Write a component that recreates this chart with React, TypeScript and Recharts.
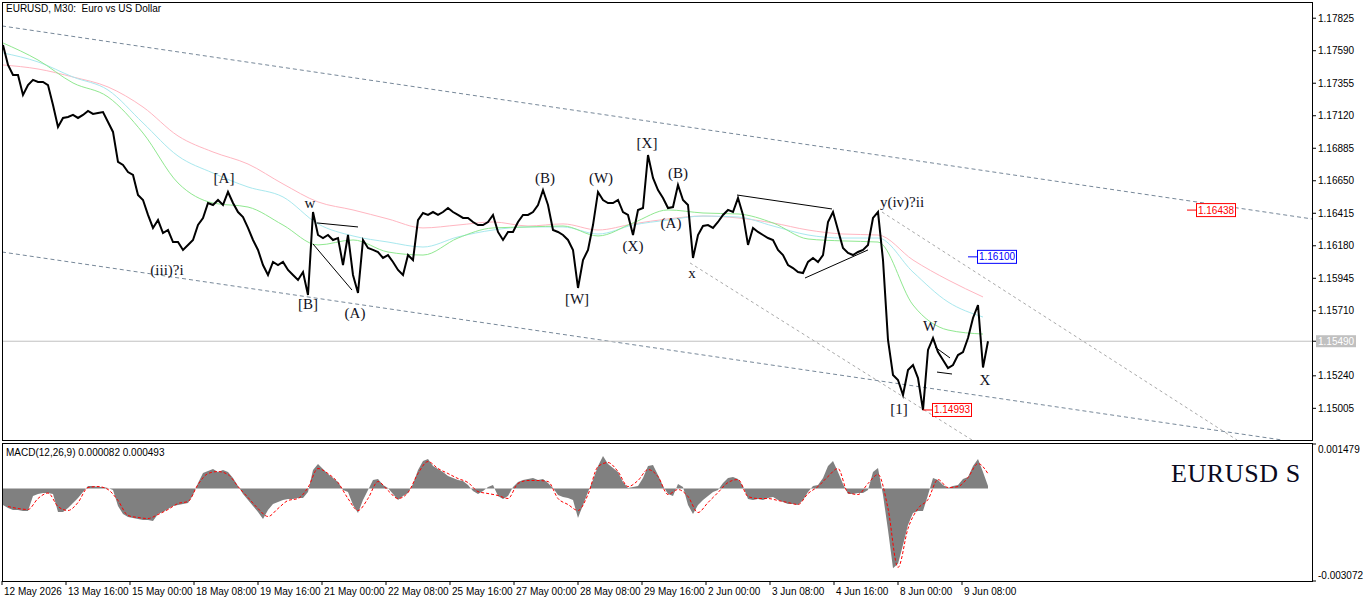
import {
  ComposedChart,
  Line,
  Area,
  XAxis,
  YAxis,
  ReferenceLine,
  ReferenceDot,
} from "recharts";

// EURUSD M30, one pixel per bar; closes read every 5 bars starting at bar 1
const closes = [
  1.17632, 1.17487, 1.17415, 1.17415, 1.1727, 1.17342, 1.17379, 1.17364, 1.17364, 1.17342,
  1.17198, 1.17039, 1.17104, 1.17111, 1.17126, 1.17104, 1.17126, 1.17155, 1.17133, 1.1714,
  1.17147, 1.17075, 1.17003, 1.16786, 1.16764, 1.16713, 1.16692, 1.16547, 1.16511, 1.16403,
  1.16309, 1.16366, 1.16272, 1.16294, 1.16207, 1.16207, 1.1615, 1.16186, 1.16222, 1.1633,
  1.16381, 1.16489, 1.16475, 1.16511, 1.16475, 1.16569, 1.16489, 1.16424, 1.16388, 1.16309,
  1.16222, 1.1615, 1.16041, 1.15969, 1.16063, 1.16041, 1.16063, 1.16005, 1.15969, 1.15933,
  1.1599, 1.15824, 1.16424, 1.16258, 1.16236, 1.16258, 1.16222, 1.16236, 1.16041, 1.16258,
  1.15969, 1.15839, 1.16222, 1.16164, 1.1615, 1.16135, 1.16092, 1.16113, 1.16063, 1.16005,
  1.15969, 1.16113, 1.16077, 1.16366, 1.16417, 1.16403, 1.16424, 1.16403, 1.16424, 1.16453,
  1.16424, 1.16403, 1.16381, 1.16381, 1.16352, 1.1633, 1.1633, 1.16352,
  1.16403, 1.1628, 1.16222, 1.1628, 1.1628, 1.16352, 1.16403, 1.16403, 1.16424, 1.16475,
  1.16583, 1.16475, 1.16294, 1.1628, 1.16258, 1.16222, 1.1615, 1.15875, 1.16077, 1.1615,
  1.1633, 1.16569, 1.16511, 1.16489, 1.16489, 1.16511, 1.16424, 1.16403, 1.16258, 1.16439,
  1.16453, 1.16836, 1.1667, 1.16583, 1.16525, 1.16453, 1.1646, 1.16619, 1.16511, 1.16475,
  1.16092, 1.16258, 1.16323, 1.1633, 1.16309, 1.16352, 1.16403, 1.16439, 1.16424, 1.16525,
  1.16403, 1.16186, 1.16309, 1.1628, 1.16258, 1.16236, 1.16222, 1.1615, 1.16113, 1.16041,
  1.16019, 1.1599, 1.15983, 1.16063, 1.16092, 1.16063, 1.16113, 1.16352, 1.16424, 1.16294,
  1.16164, 1.16128, 1.16113, 1.16135, 1.1615, 1.16186, 1.16381, 1.16424, 1.16077, 1.15499,
  1.15246, 1.1521, 1.15101, 1.15282, 1.15318, 1.15224, 1.14993, 1.15427, 1.15513, 1.15412,
  1.15354, 1.15296, 1.15318, 1.1539, 1.15412, 1.15513, 1.15658, 1.15752, 1.153, 1.1549,
];

// moving averages, read every 35 bars from bar 1
const maFast = [
  1.17646, 1.17523, 1.17357, 1.17256, 1.16995, 1.16634, 1.16489, 1.1646, 1.1633, 1.16186,
  1.16222, 1.16135, 1.16113, 1.16236, 1.16309, 1.16316, 1.16323, 1.16251, 1.16345, 1.16439,
  1.16417, 1.1641, 1.16345, 1.16229, 1.16215, 1.16207, 1.15752, 1.15571, 1.15542,
];
const maMid = [
  1.17574, 1.17509, 1.174, 1.17306, 1.17068, 1.16829, 1.16706, 1.16605, 1.16533, 1.16338,
  1.16251, 1.16207, 1.16171, 1.16244, 1.16294, 1.16316, 1.16316, 1.16265, 1.1633, 1.16366,
  1.16395, 1.16388, 1.16323, 1.16258, 1.16236, 1.16236, 1.1599, 1.15774, 1.15665,
];
const maSlow = [
  1.17487, 1.17458, 1.174, 1.17328, 1.17183, 1.16974, 1.16858, 1.16771, 1.16627, 1.16497,
  1.16439, 1.16374, 1.16309, 1.1633, 1.16352, 1.16323, 1.16338, 1.16294, 1.16338, 1.16374,
  1.16395, 1.16381, 1.16345, 1.16294, 1.16265, 1.16258, 1.16077, 1.15933, 1.1581,
];

// MACD main (histogram), same bars as closes
const macdMain = [
  -0.000548, -0.000647, -0.000714, -0.000714, -0.000747, -0.000747, -0.000249, -0.000183, -0.000149, -0.000149,
  -0.000183, -0.00078, -0.00078, -0.000647, -0.000481, -0.000315, -0.000116, 0.000083, 0.000083, 0.00005,
  0.00005, 0.000017, -0.00005, -0.000581, -0.000847, -0.000946, -0.000979, -0.001013, -0.001046, -0.001046,
  -0.001079, -0.000847, -0.00078, -0.000681, -0.000581, -0.000548, -0.000515, -0.000481, -0.000216, 0.000183,
  0.000515, 0.000581, 0.000647, 0.000548, 0.000614, 0.000548, 0.000349, 0.000083, -0.000183, -0.000382,
  -0.000581, -0.00078, -0.001013, -0.000714, -0.000515, -0.000448, -0.000382, -0.000349, -0.000349, -0.000315,
  -0.000315, -0.000116, 0.000614, 0.000813, 0.000647, 0.000481, 0.000349, 0.000216, -0.00005, -0.000116,
  -0.000548, -0.000813, -0.000382, -0.00005, 0.000282, 0.000315, 0.000116, 0.000017, -0.000183, -0.000382,
  -0.000249, -0.000149, 0.000149, 0.000614, 0.000913, 0.000979, 0.000747, 0.000647, 0.000548, 0.000415,
  0.000349, 0.000282, 0.000249, 0.000116, -0.000083, -0.000183, -0.000083, 0.00005, 0.000116, -0.000249,
  -0.000349, -0.000249, 0.00005, 0.000216, 0.000282, 0.000315, 0.000349, 0.000282, 0.000315, 0.000183,
  0.000017, -0.000216, -0.000282, -0.000315, -0.000382, -0.000979, -0.000548, -0.000116, 0.000282, 0.000747,
  0.001079, 0.000813, 0.000681, 0.000548, 0.000216, 0.000017, 0.00005, 0.000083, 0.000349, 0.000747,
  0.00078, 0.000448, 0.000083, -0.000183, -0.000249, 0.000149, 0.00005, -0.000548, -0.000847, -0.000548,
  -0.000382, -0.000249, -0.000116, -0.00005, 0.000183, 0.000349, 0.000382, 0.000315, 0.000083, -0.000349,
  -0.000382, -0.000349, -0.000382, -0.000315, -0.000282, -0.000382, -0.000448, -0.000515, -0.000515, -0.000548,
  -0.000382, -0.000116, 0.000083, 0.000116, 0.000349, 0.000747, 0.000913, 0.000548, 0.000149, -0.000183,
  -0.000183, -0.000149, -0.000149, -0.00005, 0.000548, 0.000681, -0.000216, -0.001378, -0.00265, -0.0025,
  -0.001876, -0.001212, -0.000813, -0.000747, -0.000747, -0.000216, 0.000349, 0.000282, 0.000116, 0.000017,
  0.000083, 0.000116, 0.000315, 0.000382, 0.000747, 0.000979, 0.000548, 0.000082,
];

// MACD signal, read every 10 bars from bar 6
const macdSignal = [
  -0.000598, -0.000664, -0.000697, -0.000332, -0.000149, -0.000598, -0.00073, -0.000465, 0.000033, 0.000066,
  -0.000033, -0.000398, -0.000896, -0.000963, -0.000996, -0.000863, -0.000697, -0.000498, -0.000432, 0.000133,
  0.000498, 0.000564, 0.000465, 0.000066, -0.000299, -0.000664, -0.00093, -0.000664, -0.000398, -0.000332,
  0.000033, 0.000664, 0.000498, 0.000199, -0.000332, -0.00073, -0.000332, 0.000232, -0.000066, -0.000332,
  -0.000133, 0.000498, 0.000896, 0.000664, 0.000498, 0.000332, 0.000199, -0.0001, -0.000166, -0.000232,
  -0.000332, 0.000166, 0.000266, 0.000266, 0.000232, -0.000332, -0.000531, -0.00073, -0.000199, 0.00073,
  0.000863, 0.000564, 0.000066, 0.000266, 0.000631, 0.000398, -0.000199, -0.000033, -0.000266, -0.000797,
  -0.000465, -0.000133, 0.000199, 0.000299, -0.000266, -0.000332, -0.000332, -0.000398, -0.000465, -0.000531,
  -0.000166, 0.000066, 0.000398, 0.000664, -0.000133, -0.000199, 0.000166, 0.000465, -0.000664, -0.002623,
  -0.001328, -0.000664, -0.000365, 0.000299, 0.000033, 0.000066, 0.000365, 0.00083, 0.000493,
];

const dateTicks = [0, 64, 128, 192, 256, 320, 384, 448, 512, 576, 640, 704, 768, 832, 896, 960];
const dateLabels = [
  "12 May 2026", "13 May 16:00", "15 May 00:00", "18 May 08:00", "19 May 16:00", "21 May 00:00",
  "22 May 08:00", "25 May 16:00", "27 May 00:00", "28 May 08:00", "29 May 16:00", "2 Jun 00:00",
  "3 Jun 08:00", "4 Jun 16:00", "8 Jun 00:00", "9 Jun 08:00",
];

const lastPrice = 1.1549;
const priceTicks = [
  1.17825, 1.1759, 1.17355, 1.1712, 1.16885, 1.1665, 1.16415, 1.1618, 1.15945, 1.1571,
  lastPrice, 1.1524, 1.15005,
];
const macdTicks = [0.001479, -0.003072];

const waveLabels = [
  { text: "[A]", bar: 222, price: 1.1667 },
  { text: "w", bar: 308, price: 1.16489 },
  { text: "(iii)?i", bar: 165, price: 1.16005 },
  { text: "[B]", bar: 306, price: 1.15759 },
  { text: "(A)", bar: 353, price: 1.15694 },
  { text: "(B)", bar: 543, price: 1.1667 },
  { text: "(W)", bar: 599, price: 1.1667 },
  { text: "[W]", bar: 575, price: 1.15795 },
  { text: "[X]", bar: 645, price: 1.16923 },
  { text: "(X)", bar: 631, price: 1.16178 },
  { text: "(B)", bar: 676, price: 1.16706 },
  { text: "(A)", bar: 669, price: 1.16345 },
  { text: "x", bar: 690, price: 1.15983 },
  { text: "y(iv)?ii", bar: 900, price: 1.16497 },
  { text: "W", bar: 928, price: 1.156 },
  { text: "[1]", bar: 897, price: 1.15 },
  { text: "X", bar: 983, price: 1.1521 },
];

// trend lines: [bar1, price1, bar2, price2]
const channelLines = [
  [0, 1.17769, 1310, 1.16374],
  [0, 1.16135, 1280, 1.14776],
];
const fanLines = [
  [688, 1.16056, 970, 1.14776],
  [880, 1.16424, 1235, 1.14776],
];
const patternLines = [
  [315, 1.16345, 356, 1.16316],
  [311, 1.16193, 350, 1.1586],
  [735, 1.16547, 830, 1.16446],
  [803, 1.15947, 866, 1.1615],
  [933, 1.15448, 948, 1.15369],
  [935, 1.15267, 950, 1.15253],
];

const priceTags = [
  { value: 1.16438, bar: 1185, color: "#ff0000" },
  { value: 1.161, bar: 966, color: "#0000ff" },
  { value: 1.14993, bar: 921, color: "#ff0000" },
];

const priceRows = closes.map((price, i) => ({ bar: 1 + i * 5, price }));
const maRows = maFast.map((fast, i) => ({ bar: 1 + i * 35, fast, mid: maMid[i], slow: maSlow[i] }));
const histRows = macdMain.map((macd, i) => ({ bar: 1 + i * 5, macd }));
const signalRows = macdSignal.map((signal, i) => ({ bar: 6 + i * 10, signal }));

const sans = "'Liberation Sans', Arial, sans-serif";
const serif = "'Liberation Serif', 'Times New Roman', serif";

const PriceTick = ({ x, y, payload }: any) => {
  if (payload.value === lastPrice) {
    return (
      <g>
        <rect x={x - 2} y={y - 6} width={40} height={12} fill="#c0c0c0" />
        <text x={x} y={y + 3.5} fontSize={10} fontFamily={sans} fill="#fff">
          {payload.value.toFixed(5)}
        </text>
      </g>
    );
  }
  return (
    <text x={x} y={y + 3.5} fontSize={10} fontFamily={sans} fill="#000">
      {payload.value.toFixed(5)}
    </text>
  );
};

const MacdTick = ({ x, y, payload }: any) => (
  <text x={x} y={payload.value > 0 ? y + 9 : y - 2} fontSize={10} fontFamily={sans} fill="#000">
    {payload.value.toFixed(6)}
  </text>
);

const DateTick = ({ x, y, payload }: any) => (
  <text x={x + 2} y={y + 8} fontSize={10} fontFamily={sans} fill="#000">
    {dateLabels[dateTicks.indexOf(payload.value)]}
  </text>
);

export default function App() {
  return (
    <div
      style={{
        position: "absolute",
        left: 0,
        top: 0,
        width: 1366,
        height: 603,
        background: "#fff",
        fontFamily: sans,
      }}
    >
      <ComposedChart
        width={1366}
        height={443}
        margin={{ top: 3, right: 0, bottom: 3, left: 2 }}
      >
        <XAxis type="number" dataKey="bar" domain={[0, 1310]} allowDataOverflow hide />
        <YAxis
          yAxisId="p"
          orientation="right"
          width={54}
          domain={[1.14776, 1.17935]}
          allowDataOverflow
          ticks={priceTicks}
          interval={0}
          tick={<PriceTick />}
          tickSize={4}
          tickLine={{ stroke: "#000" }}
          axisLine={false}
        />
        {channelLines.map((l, i) => (
          <ReferenceLine
            key={"c" + i}
            yAxisId="p"
            segment={[{ x: l[0], y: l[1] }, { x: l[2], y: l[3] }]}
            stroke="#778899"
            strokeDasharray="4 3"
            ifOverflow="hidden"
          />
        ))}
        {fanLines.map((l, i) => (
          <ReferenceLine
            key={"f" + i}
            yAxisId="p"
            segment={[{ x: l[0], y: l[1] }, { x: l[2], y: l[3] }]}
            stroke="#a9a9a9"
            strokeDasharray="3 3"
            ifOverflow="hidden"
          />
        ))}
        <ReferenceLine yAxisId="p" y={lastPrice} stroke="#c0c0c0" />
        <Line yAxisId="p" data={maRows} dataKey="slow" type="monotone" stroke="#ffb6c1" strokeWidth={1} dot={false} isAnimationActive={false} />
        <Line yAxisId="p" data={maRows} dataKey="mid" type="monotone" stroke="#a8e8ee" strokeWidth={1} dot={false} isAnimationActive={false} />
        <Line yAxisId="p" data={maRows} dataKey="fast" type="monotone" stroke="#90e890" strokeWidth={1} dot={false} isAnimationActive={false} />
        <Line yAxisId="p" data={priceRows} dataKey="price" type="linear" stroke="#000" strokeWidth={2} dot={false} isAnimationActive={false} />
        {patternLines.map((l, i) => (
          <ReferenceLine
            key={"t" + i}
            yAxisId="p"
            segment={[{ x: l[0], y: l[1] }, { x: l[2], y: l[3] }]}
            stroke="#000"
            strokeWidth={1}
            ifOverflow="hidden"
          />
        ))}
        {waveLabels.map((w, i) => (
          <ReferenceDot
            key={"w" + i}
            yAxisId="p"
            x={w.bar}
            y={w.price}
            shape={(p: any) => (
              <text
                x={p.cx}
                y={p.cy}
                textAnchor="middle"
                dominantBaseline="central"
                fontSize={15}
                fontFamily={serif}
                fill="#111122"
              >
                {w.text}
              </text>
            )}
          />
        ))}
        {priceTags.map((t, i) => (
          <ReferenceDot
            key={"g" + i}
            yAxisId="p"
            x={t.bar}
            y={t.value}
            shape={(p: any) => (
              <g>
                <line x1={p.cx} y1={p.cy} x2={p.cx + 9} y2={p.cy} stroke={t.color} />
                <rect x={p.cx + 9.5} y={p.cy - 6.5} width={39} height={13} fill="#fff" stroke={t.color} />
                <text
                  x={p.cx + 29}
                  y={p.cy + 3.5}
                  textAnchor="middle"
                  fontSize={10}
                  fontFamily={sans}
                  fill={t.color}
                >
                  {t.value.toFixed(5)}
                </text>
              </g>
            )}
          />
        ))}
      </ComposedChart>

      <div style={{ position: "absolute", top: 443, left: 0 }}>
        <ComposedChart
          width={1366}
          height={160}
          margin={{ top: 1, right: 0, bottom: 0, left: 2 }}
        >
          <XAxis
            type="number"
            dataKey="bar"
            domain={[0, 1310]}
            allowDataOverflow
            ticks={dateTicks}
            interval={0}
            tick={<DateTick />}
            tickSize={4}
            tickLine={{ stroke: "#000" }}
            axisLine={false}
            height={22}
          />
          <YAxis
            orientation="right"
            width={54}
            domain={[-0.003072, 0.001479]}
            allowDataOverflow
            ticks={macdTicks}
            interval={0}
            tick={<MacdTick />}
            tickSize={4}
            tickLine={{ stroke: "#000" }}
            axisLine={false}
          />
          <Area
            data={histRows}
            dataKey="macd"
            type="linear"
            baseValue={0}
            fill="#808080"
            fillOpacity={1}
            stroke="none"
            isAnimationActive={false}
          />
          <Line
            data={signalRows}
            dataKey="signal"
            type="monotone"
            stroke="#ff0000"
            strokeWidth={1}
            strokeDasharray="3 2"
            dot={false}
            isAnimationActive={false}
          />
        </ComposedChart>
      </div>

      {/* panel frames */}
      <div style={{ position: "absolute", left: 2, top: 2, width: 1311, height: 439, border: "1px solid #000", boxSizing: "border-box", pointerEvents: "none" }} />
      <div style={{ position: "absolute", left: 2, top: 443, width: 1311, height: 139, border: "1px solid #000", boxSizing: "border-box", pointerEvents: "none" }} />

      <div style={{ position: "absolute", left: 6, top: 3, fontSize: 10, lineHeight: "12px", whiteSpace: "pre" }}>
        {"EURUSD, M30:  Euro vs US Dollar"}
      </div>
      <div style={{ position: "absolute", left: 6, top: 447, fontSize: 10, lineHeight: "12px" }}>
        MACD(12,26,9) 0.000082 0.000493
      </div>
      <div style={{ position: "absolute", left: 1171, top: 461, fontSize: 26, lineHeight: "26px", letterSpacing: 0.6, fontFamily: serif, color: "#0a0a1e" }}>
        EURUSD S
      </div>
    </div>
  );
}
